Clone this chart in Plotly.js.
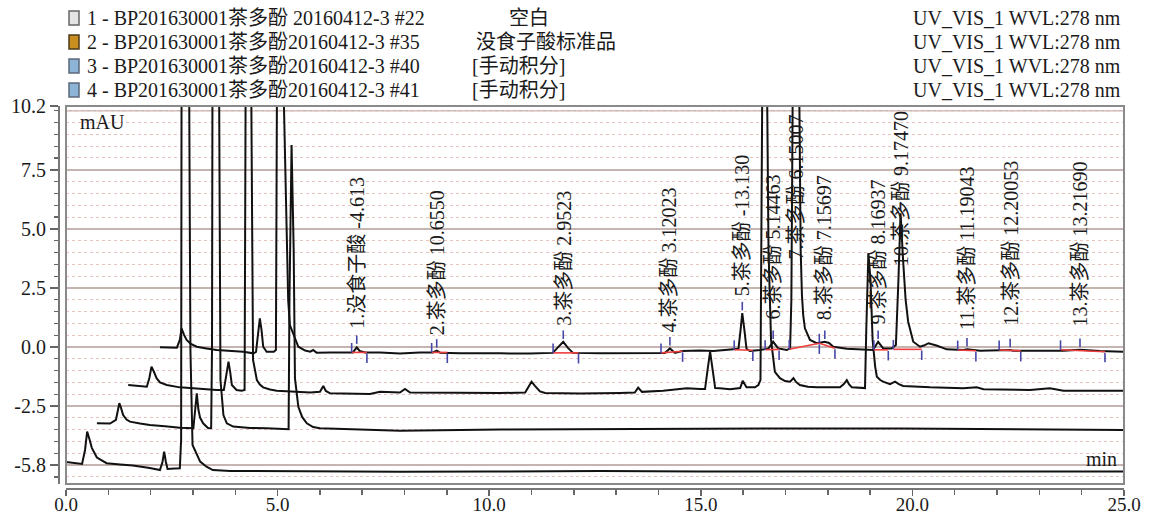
<!DOCTYPE html>
<html><head><meta charset="utf-8">
<script src="https://cdn.plot.ly/plotly-3.0.1.min.js"></script>
<style>html,body{margin:0;padding:0;background:#fff}#chart{width:1149px;height:516px}</style>
</head><body><div id="chart"></div>
<script>
// ---------------- DATA (displayed time in min, signal in mAU) ----------------
// Trace 1: #22 blank (bottom)
const blankT = [0.00,0.21,0.38,0.45,0.50,0.56,0.61,0.73,0.96,1.28,1.58,1.98,2.22,2.28,2.32,2.36,2.40,2.57,2.69,2.72,2.73,2.82,2.91,2.94,2.99,3.09,3.17,3.32,3.47,3.88,5.0,6.5,7.89,10.0,12.62,15.0,17.34,20.0,22.07,24.98];
const blankV = [-4.87,-4.91,-4.95,-4.36,-3.58,-3.94,-4.27,-4.68,-4.92,-4.97,-5.02,-5.12,-5.21,-4.87,-4.43,-4.87,-5.16,-5.14,-5.13,-3.94,10.2,45,10.2,-0.13,-4.15,-4.57,-4.85,-5.07,-5.21,-5.25,-5.26,-5.27,-5.28,-5.27,-5.25,-5.27,-5.27,-5.26,-5.25,-5.27];
// Trace 2: #35 gallic acid standard
const stdT = [0.73,1.04,1.18,1.26,1.30,1.35,1.43,1.51,1.75,1.98,2.34,2.69,3.01,3.04,3.09,3.13,3.17,3.24,3.36,3.43,3.45,3.46,3.55,3.62,3.65,3.72,3.80,3.95,4.35,4.74,5.22,5.26,5.28,5.33,5.38,5.41,5.49,5.58,5.69,5.84,6.00,7.11,7.89,10.26,12.62,14.98,17.34,19.71,22.07,24.98];
const stdV = [-3.23,-3.24,-3.09,-2.38,-2.58,-2.88,-3.07,-3.16,-3.24,-3.30,-3.36,-3.42,-3.44,-2.88,-1.96,-2.67,-3.00,-3.23,-3.44,-3.43,-0.13,10.2,45,10.2,-1.40,-2.88,-3.23,-3.37,-3.43,-3.44,-3.48,-3.48,1.99,8.55,4.10,-1.32,-2.53,-2.96,-3.23,-3.39,-3.44,-3.51,-3.55,-3.49,-3.47,-3.47,-3.45,-3.45,-3.49,-3.51];
// Trace 3: #40 sample
const s40T = [1.47,1.75,1.91,1.97,2.02,2.08,2.14,2.22,2.38,2.69,3.17,3.56,3.73,3.79,3.84,3.88,3.92,4.03,4.15,4.22,4.24,4.31,4.38,4.42,4.51,4.58,4.66,4.82,4.98,5.41,5.77,6.00,6.08,6.14,6.24,7.18,7.42,7.89,8.01,8.13,9.07,10.26,10.85,10.93,11.00,11.08,11.20,11.32,12.15,13.09,13.44,13.52,13.61,14.11,14.67,14.98,15.10,15.16,15.22,15.28,15.34,15.45,15.69,15.93,15.99,16.08,16.28,16.36,16.41,16.45,16.51,16.57,16.60,16.66,16.75,16.87,16.99,17.11,17.19,17.25,17.34,17.53,17.74,18.29,18.38,18.45,18.50,18.57,18.80,18.88,18.91,18.96,19.01,19.06,19.12,19.16,19.24,19.31,19.47,19.59,19.68,19.78,20.42,21.20,21.52,21.68,22.78,23.25,23.57,24.98];
const s40V = [-1.61,-1.65,-1.68,-1.31,-0.83,-1.06,-1.32,-1.50,-1.61,-1.71,-1.78,-1.82,-1.82,-1.18,-0.62,-1.06,-1.61,-1.82,-1.85,-1.82,10.2,45,10.2,-0.55,-1.40,-1.59,-1.71,-1.80,-1.85,-1.90,-1.93,-1.90,-1.65,-1.86,-1.96,-1.99,-1.90,-1.93,-1.78,-1.93,-1.95,-1.95,-1.93,-1.65,-1.47,-1.65,-1.88,-1.95,-1.97,-1.95,-1.93,-1.72,-1.90,-1.85,-1.75,-1.78,-1.78,-0.97,-0.20,-0.97,-1.74,-1.75,-1.79,-1.74,-1.43,-1.71,-1.71,-1.61,-1.40,10.2,45,10.2,4.10,0.30,-1.05,-1.32,-1.44,-1.47,-1.32,-1.48,-1.61,-1.68,-1.71,-1.71,-1.57,-1.40,-1.57,-1.71,-1.75,-1.74,0.72,3.97,2.84,0.30,-0.83,-1.26,-1.40,-1.47,-1.57,-1.47,-1.57,-1.65,-1.71,-1.75,-1.71,-1.79,-1.82,-1.75,-1.85,-1.85];
// Trace 4: #41 sample (integrated, top)
const s41T = [2.22,2.46,2.62,2.69,2.73,2.79,2.85,2.95,3.09,3.32,3.56,4.19,4.43,4.49,4.55,4.58,4.62,4.66,4.74,4.91,4.96,4.98,5.06,5.15,5.19,5.25,5.29,5.37,5.49,5.65,5.77,5.84,5.92,6.24,6.71,6.78,6.87,6.94,7.07,7.42,7.89,8.36,8.67,8.76,8.84,9.31,10.26,10.96,11.50,11.62,11.75,11.86,11.98,12.62,13.56,14.15,14.27,14.39,14.56,14.98,15.30,15.77,15.89,15.94,15.98,16.03,16.08,16.16,16.40,16.60,16.71,16.83,17.03,17.11,17.14,17.17,17.25,17.33,17.36,17.39,17.42,17.46,17.58,17.74,17.84,17.93,18.03,18.13,18.45,18.84,19.07,19.19,19.31,19.51,19.61,19.67,19.72,19.78,19.84,19.90,20.02,20.18,20.27,20.38,20.57,20.81,21.20,21.29,21.60,22.31,22.38,23.56,23.96,24.43,24.98];
const s41V = [-0.01,-0.02,-0.03,0.30,0.79,0.51,0.30,0.13,0.01,-0.06,-0.13,-0.20,-0.27,-0.21,0.72,1.21,0.72,0.01,-0.20,-0.20,-0.13,10.2,45,10.2,6.22,1.99,0.93,0.58,0.01,-0.15,-0.20,-0.13,-0.24,-0.23,-0.25,-0.23,-0.02,-0.17,-0.23,-0.23,-0.28,-0.23,-0.23,-0.15,-0.24,-0.27,-0.27,-0.28,-0.25,-0.04,0.22,-0.04,-0.25,-0.27,-0.25,-0.25,-0.06,-0.25,-0.17,-0.15,-0.17,-0.08,-0.08,0.72,1.43,0.72,-0.08,-0.17,-0.13,-0.06,0.22,-0.06,-0.13,-0.06,1.99,10.2,45,10.2,4.10,2.20,1.35,0.79,0.30,0.16,0.19,0.22,0.17,0.01,-0.08,-0.13,-0.13,0.22,-0.06,-0.06,0.08,2.84,5.66,3.68,1.99,1.07,0.22,0.01,0.06,0.16,0.06,-0.10,-0.13,-0.10,-0.16,-0.13,-0.16,-0.16,-0.12,-0.17,-0.20];

// Peak integration of trace #41
const peakLabels = ['1.没食子酸 -4.613','2.茶多酚 10.6550','3.茶多酚 2.9523','4.茶多酚 3.12023','5.茶多酚 -13.130','6.茶多酚 5.14463','7.茶多酚 6.15007','8.茶多酚 7.15697','9.茶多酚 8.16937','10.茶多酚 9.17470','11.茶多酚 11.19043','12.茶多酚 12.20053','13.茶多酚 13.21690'];
const peakApexT = [6.87,8.76,11.75,14.27,15.98,16.71,17.25,17.93,19.19,19.72,21.29,22.31,23.96];
const peakApexV = [0.01,-0.15,0.22,-0.06,1.43,0.22,null,0.22,0.22,5.66,-0.10,-0.13,-0.12];
const peakStartT = [6.75,8.64,11.51,14.06,15.79,16.52,17.09,17.80,19.09,19.55,21.07,22.05,23.50];
const peakEndT   = [7.11,9.01,12.11,14.57,16.23,16.85,17.80,18.17,19.43,20.22,21.50,22.56,24.55];
const peakStartV = [-0.23,-0.23,-0.25,-0.25,-0.12,-0.12,-0.10,0.16,-0.12,-0.10,-0.13,-0.13,-0.12];
const peakEndV   = [-0.23,-0.23,-0.25,-0.18,-0.14,-0.10,0.16,-0.05,-0.12,-0.10,-0.16,-0.16,-0.20];
// label anchor (bottom of rotated label), in mAU
const labelAnchorV = [0.68,0.42,0.80,0.55,2.07,1.06,3.60,1.06,0.85,3.34,0.63,0.80,0.80];

// Header
const legendNames = ['1 - BP201630001茶多酚 20160412-3 #22','2 - BP201630001茶多酚20160412-3 #35','3 - BP201630001茶多酚20160412-3 #40','4 - BP201630001茶多酚20160412-3 #41'];
const legendComments = ['空白','没食子酸标准品','[手动积分]','[手动积分]'];
const legendDetector = ['UV_VIS_1 WVL:278 nm','UV_VIS_1 WVL:278 nm','UV_VIS_1 WVL:278 nm','UV_VIS_1 WVL:278 nm'];

const yTickVals = [10.2,7.5,5.0,2.5,0.0,-2.5,-5.0];
const yTickText = ['10.2','7.5','5.0','2.5','0.0','-2.5','-5.8'];

// ---------------- LAYOUT ----------------
const W=1149,H=516, PL=58, PR=1124, PT=106, PB=488;
const px2x = p => (p-PL)/(PR-PL);
const py2y = p => (PB-p)/(PB-PT);
const FONT = '"Liberation Serif","Times New Roman","Noto Sans CJK SC",serif';
const TXT = '#1a1a1a';
const GRID = '#c6b4b0', MINOR = '#e8c2bc';

const traces = [];
const lineStyle = {color:'#111', width:2};
[[blankT,blankV],[stdT,stdV],[s40T,s40V],[s41T,s41V]].forEach(([t,v])=>{
  traces.push({x:t, y:v, type:'scatter', mode:'lines', line:lineStyle, hoverinfo:'skip'});
});
const redX=[],redY=[],blueX=[],blueY=[];
peakLabels.forEach((_,i)=>{
  redX.push(peakStartT[i],peakEndT[i],null); redY.push(peakStartV[i],peakEndV[i],null);
  blueX.push(peakStartT[i],peakStartT[i],null); blueY.push(peakStartV[i],peakStartV[i]+0.4,null);
  blueX.push(peakEndT[i],peakEndT[i],null); blueY.push(peakEndV[i]-0.05,peakEndV[i]-0.45,null);
  if(peakApexV[i]!==null){ blueX.push(peakApexT[i],peakApexT[i],null); blueY.push(peakApexV[i]+0.12,peakApexV[i]+0.48,null); }
});
traces.push({x:redX,y:redY,type:'scatter',mode:'lines',line:{color:'#f03c3c',width:1.6},hoverinfo:'skip'});
traces.push({x:blueX,y:blueY,type:'scatter',mode:'lines',line:{color:'#4646a8',width:1.6},hoverinfo:'skip'});

const annotations = [];
const rowY = [18,42,66,90];
const commentX = [507,474,470,470];
legendNames.forEach((n,i)=>{
  annotations.push({xref:'paper',yref:'paper',x:px2x(85),y:py2y(rowY[i]),text:n,showarrow:false,xanchor:'left',yanchor:'middle',font:{size:20,color:TXT}});
  annotations.push({xref:'paper',yref:'paper',x:px2x(commentX[i]),y:py2y(rowY[i]),text:legendComments[i],showarrow:false,xanchor:'left',yanchor:'middle',font:{size:20,color:TXT}});
  annotations.push({xref:'paper',yref:'paper',x:px2x(1123),y:py2y(rowY[i]),text:legendDetector[i],showarrow:false,xanchor:'right',yanchor:'middle',font:{size:20,color:TXT}});
});
annotations.push({xref:'paper',yref:'paper',x:px2x(78),y:py2y(122),text:'mAU',showarrow:false,xanchor:'left',yanchor:'middle',font:{size:20,color:TXT}});
annotations.push({xref:'paper',yref:'paper',x:px2x(1119),y:py2y(459),text:'min',showarrow:false,xanchor:'right',yanchor:'middle',font:{size:20,color:TXT}});
peakLabels.forEach((lab,i)=>{
  annotations.push({xref:'x',yref:'y',x:peakApexT[i],y:labelAnchorV[i],text:lab,textangle:-90,showarrow:false,xanchor:'center',yanchor:'bottom',font:{size:20,color:TXT}});
});

const iconFill = ['#e4e4e4','#c98f1e','#8db4d6','#8db4d6'];
const iconLine = ['#666','#4a3a1c','#5a6878','#5a6878'];
const shapes = [
  {type:'line',xref:'x domain',yref:'y',x0:0,x1:1,y0:10,y1:10,line:{color:GRID,width:1.5},layer:'below'},
  {type:'rect',xref:'x domain',yref:'y domain',x0:0,x1:1,y0:0,y1:1,line:{color:'#8a8a8a',width:2},layer:'above'}
];
rowY.forEach((ry,i)=>{
  shapes.push({type:'rect',xref:'paper',yref:'paper',x0:px2x(69),x1:px2x(79),y0:py2y(ry+7),y1:py2y(ry-7),fillcolor:iconFill[i],line:{color:iconLine[i],width:1.5}});
});

const layout = {
  width:W, height:H,
  margin:{l:PL, r:W-PR, t:PT, b:H-PB, pad:0},
  paper_bgcolor:'#fff', plot_bgcolor:'#fff',
  showlegend:false,
  font:{family:FONT, size:20, color:TXT},
  xaxis:{domain:[px2x(66),1], anchor:'free', position:0, range:[0,25],
    tickmode:'linear', tick0:0, dtick:5, tickformat:'.1f',
    showline:true, linecolor:'#777', linewidth:1.5, ticks:'outside', ticklen:6, tickwidth:1.5, tickcolor:'#666',
    ticklabelstandoff:-7,
    showgrid:false, zeroline:false, tickfont:{size:19,color:TXT},
    minor:{tickmode:'linear', tick0:0, dtick:1, ticks:'outside', ticklen:5, tickcolor:'#666', tickwidth:1.5, showgrid:false}},
  yaxis:{domain:[py2y(484),1], anchor:'free', position:0, range:[-5.8,10.2],
    tickmode:'array', tickvals:yTickVals, ticktext:yTickText,
    showline:true, linecolor:'#777', linewidth:1.5, ticks:'outside', ticklen:8, tickwidth:1.5, tickcolor:'#666',
    showgrid:true, gridcolor:GRID, gridwidth:1.5, zeroline:false, tickfont:{size:20,color:TXT},
    minor:{tickmode:'linear', tick0:0, dtick:0.5, ticks:'outside', ticklen:4, tickcolor:'#666', tickwidth:1.2,
      showgrid:true, gridcolor:MINOR, griddash:'dot', gridwidth:1}},
  annotations, shapes
};
Plotly.newPlot('chart', traces, layout, {displayModeBar:false, staticPlot:true});
</script></body></html>
